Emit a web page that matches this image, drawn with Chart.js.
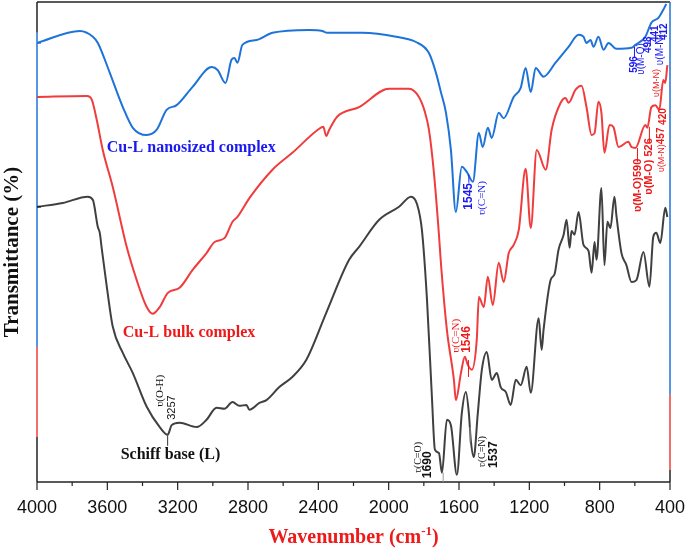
<!DOCTYPE html>
<html>
<head>
<meta charset="utf-8">
<script src="https://cdn.jsdelivr.net/npm/chart.js@4.4.1/dist/chart.umd.min.js"></script>
<style>
  html, body { margin: 0; padding: 0; background: #fff; }
  #wrap { width: 685px; height: 549px; }
</style>
</head>
<body>
<div id="wrap"><canvas id="ftir" width="685" height="549"></canvas></div>
<script>
// wavenumber (cm-1) / transmittance (a.u.)
const blueWn = [4000, 3756, 3682, 3654, 3586, 3512, 3455, 3376, 3319, 3263, 3206, 3115, 3007, 2973, 2928, 2894, 2877, 2860, 2832, 2752, 2661, 2452, 2378, 2349, 2151, 1958, 1845, 1771, 1731, 1703, 1674, 1646, 1618, 1584, 1555, 1521, 1487, 1465, 1436, 1414, 1374, 1346, 1289, 1249, 1221, 1192, 1164, 1119, 1051, 977, 920, 892, 875, 852, 835, 807, 778, 750, 705, 619, 597, 540, 506, 466, 438, 421];
const blueT = [91.5, 94.0, 92.8, 91.5, 85.3, 78.2, 73.9, 72.4, 73.5, 77.6, 78.6, 82.4, 86.5, 85.9, 83.2, 88.0, 88.4, 87.4, 91.1, 92.1, 93.6, 94.2, 94.0, 93.6, 93.6, 92.8, 91.7, 89.4, 85.3, 81.3, 77.0, 69.3, 56.4, 65.8, 64.7, 62.7, 72.8, 69.9, 73.9, 71.8, 77.0, 75.9, 80.3, 82.2, 86.3, 81.3, 86.3, 84.5, 87.4, 90.7, 93.2, 92.8, 91.5, 92.1, 90.7, 92.8, 90.1, 91.5, 90.3, 90.5, 91.1, 92.8, 95.7, 96.7, 98.4, 99.6];

const redWn = [4000, 3716, 3688, 3660, 3626, 3569, 3490, 3433, 3376, 3342, 3302, 3257, 3189, 3115, 3036, 2990, 2934, 2888, 2860, 2792, 2661, 2548, 2395, 2372, 2355, 2338, 2293, 2168, 1998, 1884, 1828, 1794, 1771, 1743, 1714, 1703, 1669, 1629, 1618, 1589, 1567, 1550, 1527, 1499, 1487, 1459, 1436, 1408, 1374, 1346, 1317, 1289, 1260, 1221, 1192, 1158, 1107, 1073, 1022, 994, 977, 937, 903, 875, 846, 829, 807, 790, 773, 744, 722, 693, 637, 619, 597, 540, 529, 506, 483, 461, 438, 427, 415];
const redT = [80.3, 80.5, 79.7, 75.5, 69.3, 61.6, 49.2, 42.3, 36.7, 35.3, 36.7, 39.6, 40.7, 44.4, 47.9, 50.2, 51.0, 54.4, 55.4, 59.3, 65.2, 68.7, 73.7, 74.1, 72.2, 73.5, 76.2, 78.2, 82.0, 82.0, 80.3, 77.2, 73.5, 64.7, 51.7, 45.9, 32.0, 21.6, 17.4, 23.0, 26.4, 24.7, 23.7, 29.9, 38.8, 36.7, 43.0, 37.1, 45.9, 41.9, 47.9, 49.6, 52.7, 65.4, 53.1, 69.3, 65.2, 73.5, 79.1, 80.1, 79.1, 81.8, 82.6, 78.2, 72.4, 72.8, 79.3, 77.0, 68.7, 74.5, 74.1, 69.9, 71.0, 69.9, 69.7, 74.5, 73.9, 78.2, 78.6, 77.6, 83.8, 83.2, 86.9];

const blackWn = [4000, 3853, 3711, 3682, 3654, 3643, 3631, 3603, 3569, 3512, 3455, 3376, 3302, 3257, 3234, 3189, 3092, 3036, 2979, 2934, 2888, 2849, 2809, 2792, 2735, 2695, 2622, 2548, 2469, 2355, 2225, 2168, 2054, 1941, 1873, 1839, 1811, 1782, 1754, 1737, 1714, 1697, 1669, 1646, 1612, 1584, 1561, 1544, 1533, 1516, 1493, 1470, 1442, 1414, 1385, 1363, 1334, 1306, 1277, 1249, 1215, 1192, 1147, 1130, 1119, 1079, 1056, 1034, 1005, 988, 971, 960, 943, 920, 892, 863, 846, 829, 818, 790, 773, 756, 739, 716, 705, 676, 648, 619, 591, 551, 517, 495, 478, 455, 427, 415];
const blackT = [57.5, 58.3, 59.6, 58.9, 53.3, 52.1, 48.6, 40.9, 32.6, 27.2, 23.0, 16.0, 11.8, 10.2, 12.2, 12.7, 11.8, 13.3, 15.8, 15.6, 17.0, 16.2, 16.4, 15.4, 16.8, 17.4, 20.1, 22.2, 25.7, 35.5, 46.5, 49.2, 54.8, 57.5, 59.6, 58.1, 52.7, 38.2, 18.0, 7.1, 6.4, 2.3, 13.3, 12.2, 1.9, 14.7, 19.1, 14.7, 9.1, 5.6, 14.7, 23.7, 27.4, 21.6, 23.0, 20.1, 19.1, 16.4, 21.6, 20.5, 24.3, 18.9, 34.4, 27.8, 32.0, 42.3, 43.6, 48.6, 51.7, 54.8, 49.0, 52.5, 51.7, 56.4, 49.6, 48.3, 43.8, 50.2, 46.5, 61.4, 45.4, 54.4, 53.1, 59.6, 55.8, 47.9, 45.4, 41.9, 42.3, 48.1, 40.9, 51.3, 52.1, 50.0, 57.3, 55.4];

const xTicks = [4000, 3600, 3200, 2800, 2400, 2000, 1600, 1200, 800, 400];

const BLUE = '#1e73d8', RED = '#f03c3c', DARK = '#404040';
const TBLUE = '#1a1af0', TRED = '#ee1a1a';
const SANS = '"Liberation Sans", Arial, sans-serif';
const SERIF = '"Liberation Serif", "Times New Roman", serif';

const toPts = (xs, ys) => xs.map((x, i) => ({ x: x, y: ys[i] }));

// curve names (horizontal)
const curveNames = [
  { text: 'Cu-L nanosized complex', wn: 3603, t: 69.7, color: TBLUE },
  { text: 'Cu-L bulk complex', wn: 3512, t: 31.3, color: TRED },
  { text: 'Schiff base (L)', wn: 3524, t: 6.0, color: '#111' }
];

// band assignments (vertical text, anchor = bottom of text)
const bandLabels = [
  { wn: 1544, t: 56.9, color: TBLUE, parts: [['1545', 'bold 12px ' + SANS]] },
  { wn: 1470, t: 55.8, color: TBLUE, parts: [['ʋ(C=N)', '11px ' + SERIF]] },
  { wn: 602, t: 85.3, color: TBLUE, parts: [['596', 'bold 10px ' + SANS]] },
  { wn: 563, t: 84.9, color: TBLUE, parts: [['ʋ(M-O)', '10px ' + SANS]] },
  { wn: 523, t: 89.4, color: TBLUE, parts: [['498', 'bold 10px ' + SANS]] },
  { wn: 483, t: 91.7, color: TBLUE, parts: [['441', 'bold 10px ' + SANS]] },
  { wn: 455, t: 86.9, color: TBLUE, parts: [['ʋ(M-N)', '10px ' + SANS]] },
  { wn: 432, t: 92.1, color: TBLUE, parts: [['412', 'bold 10px ' + SANS]] },
  { wn: 478, t: 80.3, color: TRED, parts: [['ʋ(M-N)', '9px ' + SANS]] },
  { wn: 438, t: 74.5, color: TRED, parts: [['420', 'bold 10px ' + SANS]] },
  { wn: 449, t: 64.7, color: TRED, parts: [['ʋ(M-N)', '9px ' + SANS], ['457', 'bold 10px ' + SANS]] },
  { wn: 517, t: 60.0, color: TRED, parts: [['ʋ(M-O)', 'bold 11px ' + SANS], [' 526', 'bold 11px ' + SANS]] },
  { wn: 585, t: 56.4, color: TRED, parts: [['ʋ(M-O)', 'bold 11px ' + SANS], ['590', 'bold 11px ' + SANS]] },
  { wn: 1618, t: 27.2, color: TRED, parts: [['ʋ(C=N)', '11px ' + SERIF]] },
  { wn: 1555, t: 27.2, color: TRED, parts: [['1546', 'bold 12px ' + SANS]] },
  { wn: 3302, t: 16.0, color: '#111', parts: [['ʋ(O-H)', '11px ' + SERIF]] },
  { wn: 3234, t: 13.3, color: '#111', parts: [['3257', '11px ' + SANS]] },
  { wn: 1833, t: 2.3, color: '#111', parts: [['ʋ(C=O)', '10px ' + SERIF]] },
  { wn: 1777, t: 1.2, color: '#111', parts: [['1690', 'bold 12px ' + SANS]] },
  { wn: 1465, t: 3.5, color: '#111', parts: [['ʋ(C=N)', '10px ' + SERIF]] },
  { wn: 1402, t: 3.3, color: '#111', parts: [['1537', 'bold 12px ' + SANS]] }
];

// small pointer lines [wn, t1, t2, colour]
const pointers = [
  [1544, 62.5, 64.2, TBLUE], [602, 88.6, 90.7, TBLUE], [512, 91.0, 92.5, TBLUE],
  [585, 66.8, 69.7, TRED], [517, 70.8, 74.1, TRED], [1546, 22.2, 25.7, TRED],
  [3257, 7.9, 10.0, '#333'], [1690, 0.4, 2.3, '#999'], [1537, 8.5, 11.8, '#999']
];

const extras = {
  id: 'extras',
  afterDraw(chart) {
    const { ctx, chartArea: a, scales: { x, y } } = chart;
    ctx.save();

    // frame with coloured stacked-axis segments
    ctx.lineWidth = 1.5;
    const seg = (x1, y1, x2, y2, c) => {
      ctx.strokeStyle = c; ctx.beginPath(); ctx.moveTo(x1, y1); ctx.lineTo(x2, y2); ctx.stroke();
    };
    const yp = v => y.getPixelForValue(v);
    seg(a.left, a.top, a.right, a.top, '#222');
    seg(a.left, a.bottom, a.right, a.bottom, '#222');
    seg(a.left, a.top, a.left, yp(93.6), '#222');
    seg(a.left, yp(93.6), a.left, yp(28.4), BLUE);
    seg(a.left, yp(28.4), a.left, yp(9.8), RED);
    seg(a.left, yp(9.8), a.left, a.bottom, '#222');
    seg(a.right, a.top, a.right, yp(18.5), BLUE);
    seg(a.right, yp(18.5), a.right, yp(2.9), RED);
    seg(a.right, yp(2.9), a.right, a.bottom, '#222');
    seg(a.left, yp(91.5), a.left + 4, yp(91.5), BLUE);
    seg(a.left, yp(80.3), a.left + 4, yp(80.3), RED);
    seg(a.left, yp(57.5), a.left + 4, yp(57.5), '#222');

    // x ticks, major and minor, pointing outwards
    ctx.lineWidth = 1.2;
    for (let w = 400; w <= 4000; w += 200) {
      const px = x.getPixelForValue(w);
      seg(px, a.bottom, px, a.bottom + (w % 400 === 0 ? 8 : 4), '#222');
    }

    // pointer lines
    ctx.lineWidth = 1;
    pointers.forEach(p => {
      const px = x.getPixelForValue(p[0]);
      seg(px, yp(p[1]), px, yp(p[2]), p[3]);
    });

    // axis titles
    ctx.fillStyle = '#111';
    ctx.font = 'bold 21px ' + SERIF;
    ctx.textAlign = 'center';
    ctx.textBaseline = 'middle';
    ctx.save();
    ctx.translate(13, 252);
    ctx.rotate(-Math.PI / 2);
    ctx.fillText('Transmittance (%)', 0, 0);
    ctx.restore();

    const main = 'Wavenumber (cm', sup = '-1', tail = ')';
    const fMain = 'bold 20px ' + SERIF, fSup = 'bold 13px ' + SERIF;
    ctx.font = fMain; const w1 = ctx.measureText(main).width, w3 = ctx.measureText(tail).width;
    ctx.font = fSup; const w2 = ctx.measureText(sup).width;
    let tx = (a.left + a.right) / 2 - (w1 + w2 + w3) / 2;
    const ty = 537;
    ctx.fillStyle = TRED;
    ctx.textAlign = 'left';
    ctx.textBaseline = 'alphabetic';
    ctx.font = fMain; ctx.fillText(main, tx, ty + 6); tx += w1;
    ctx.font = fSup; ctx.fillText(sup, tx, ty - 2); tx += w2;
    ctx.font = fMain; ctx.fillText(tail, tx, ty + 6);

    // curve names
    ctx.textBaseline = 'middle';
    ctx.font = 'bold 16px ' + SERIF;
    curveNames.forEach(c => {
      ctx.fillStyle = c.color;
      ctx.fillText(c.text, x.getPixelForValue(c.wn), yp(c.t));
    });

    // rotated band labels
    bandLabels.forEach(b => {
      ctx.save();
      ctx.translate(x.getPixelForValue(b.wn), yp(b.t));
      ctx.rotate(-Math.PI / 2);
      ctx.fillStyle = b.color;
      ctx.textAlign = 'left';
      ctx.textBaseline = 'middle';
      let off = 0;
      b.parts.forEach(([txt, f]) => {
        ctx.font = f;
        ctx.fillText(txt, off, 0);
        off += ctx.measureText(txt).width;
      });
      ctx.restore();
    });

    ctx.restore();
  }
};

const line = (label, xs, ys, color) => ({
  label: label,
  data: toPts(xs, ys),
  borderColor: color,
  borderWidth: 2,
  pointRadius: 0,
  fill: false,
  cubicInterpolationMode: 'monotone'
});

new Chart(document.getElementById('ftir'), {
  type: 'line',
  data: {
    datasets: [
      line('Schiff base (L)', blackWn, blackT, DARK),
      line('Cu-L bulk complex', redWn, redT, RED),
      line('Cu-L nanosized complex', blueWn, blueT, BLUE)
    ]
  },
  options: {
    responsive: false,
    animation: false,
    events: [],
    layout: { padding: { left: 37, right: 15, top: 2, bottom: 0 } },
    plugins: { legend: { display: false }, tooltip: { enabled: false } },
    scales: {
      x: {
        type: 'linear',
        reverse: true,
        min: 400,
        max: 4000,
        grid: { display: false, drawTicks: false },
        border: { display: false },
        afterBuildTicks: s => { s.ticks = xTicks.map(v => ({ value: v })); },
        afterFit: s => { s.height = 67; s.paddingLeft = 0; s.paddingRight = 0; },
        ticks: {
          padding: 15,
          color: '#111',
          font: { family: SANS, size: 18 },
          maxRotation: 0,
          autoSkip: false,
          callback: v => String(v)
        }
      },
      y: {
        display: false,
        min: 0.4,
        max: 100
      }
    }
  },
  plugins: [extras]
});
</script>
</body>
</html>
